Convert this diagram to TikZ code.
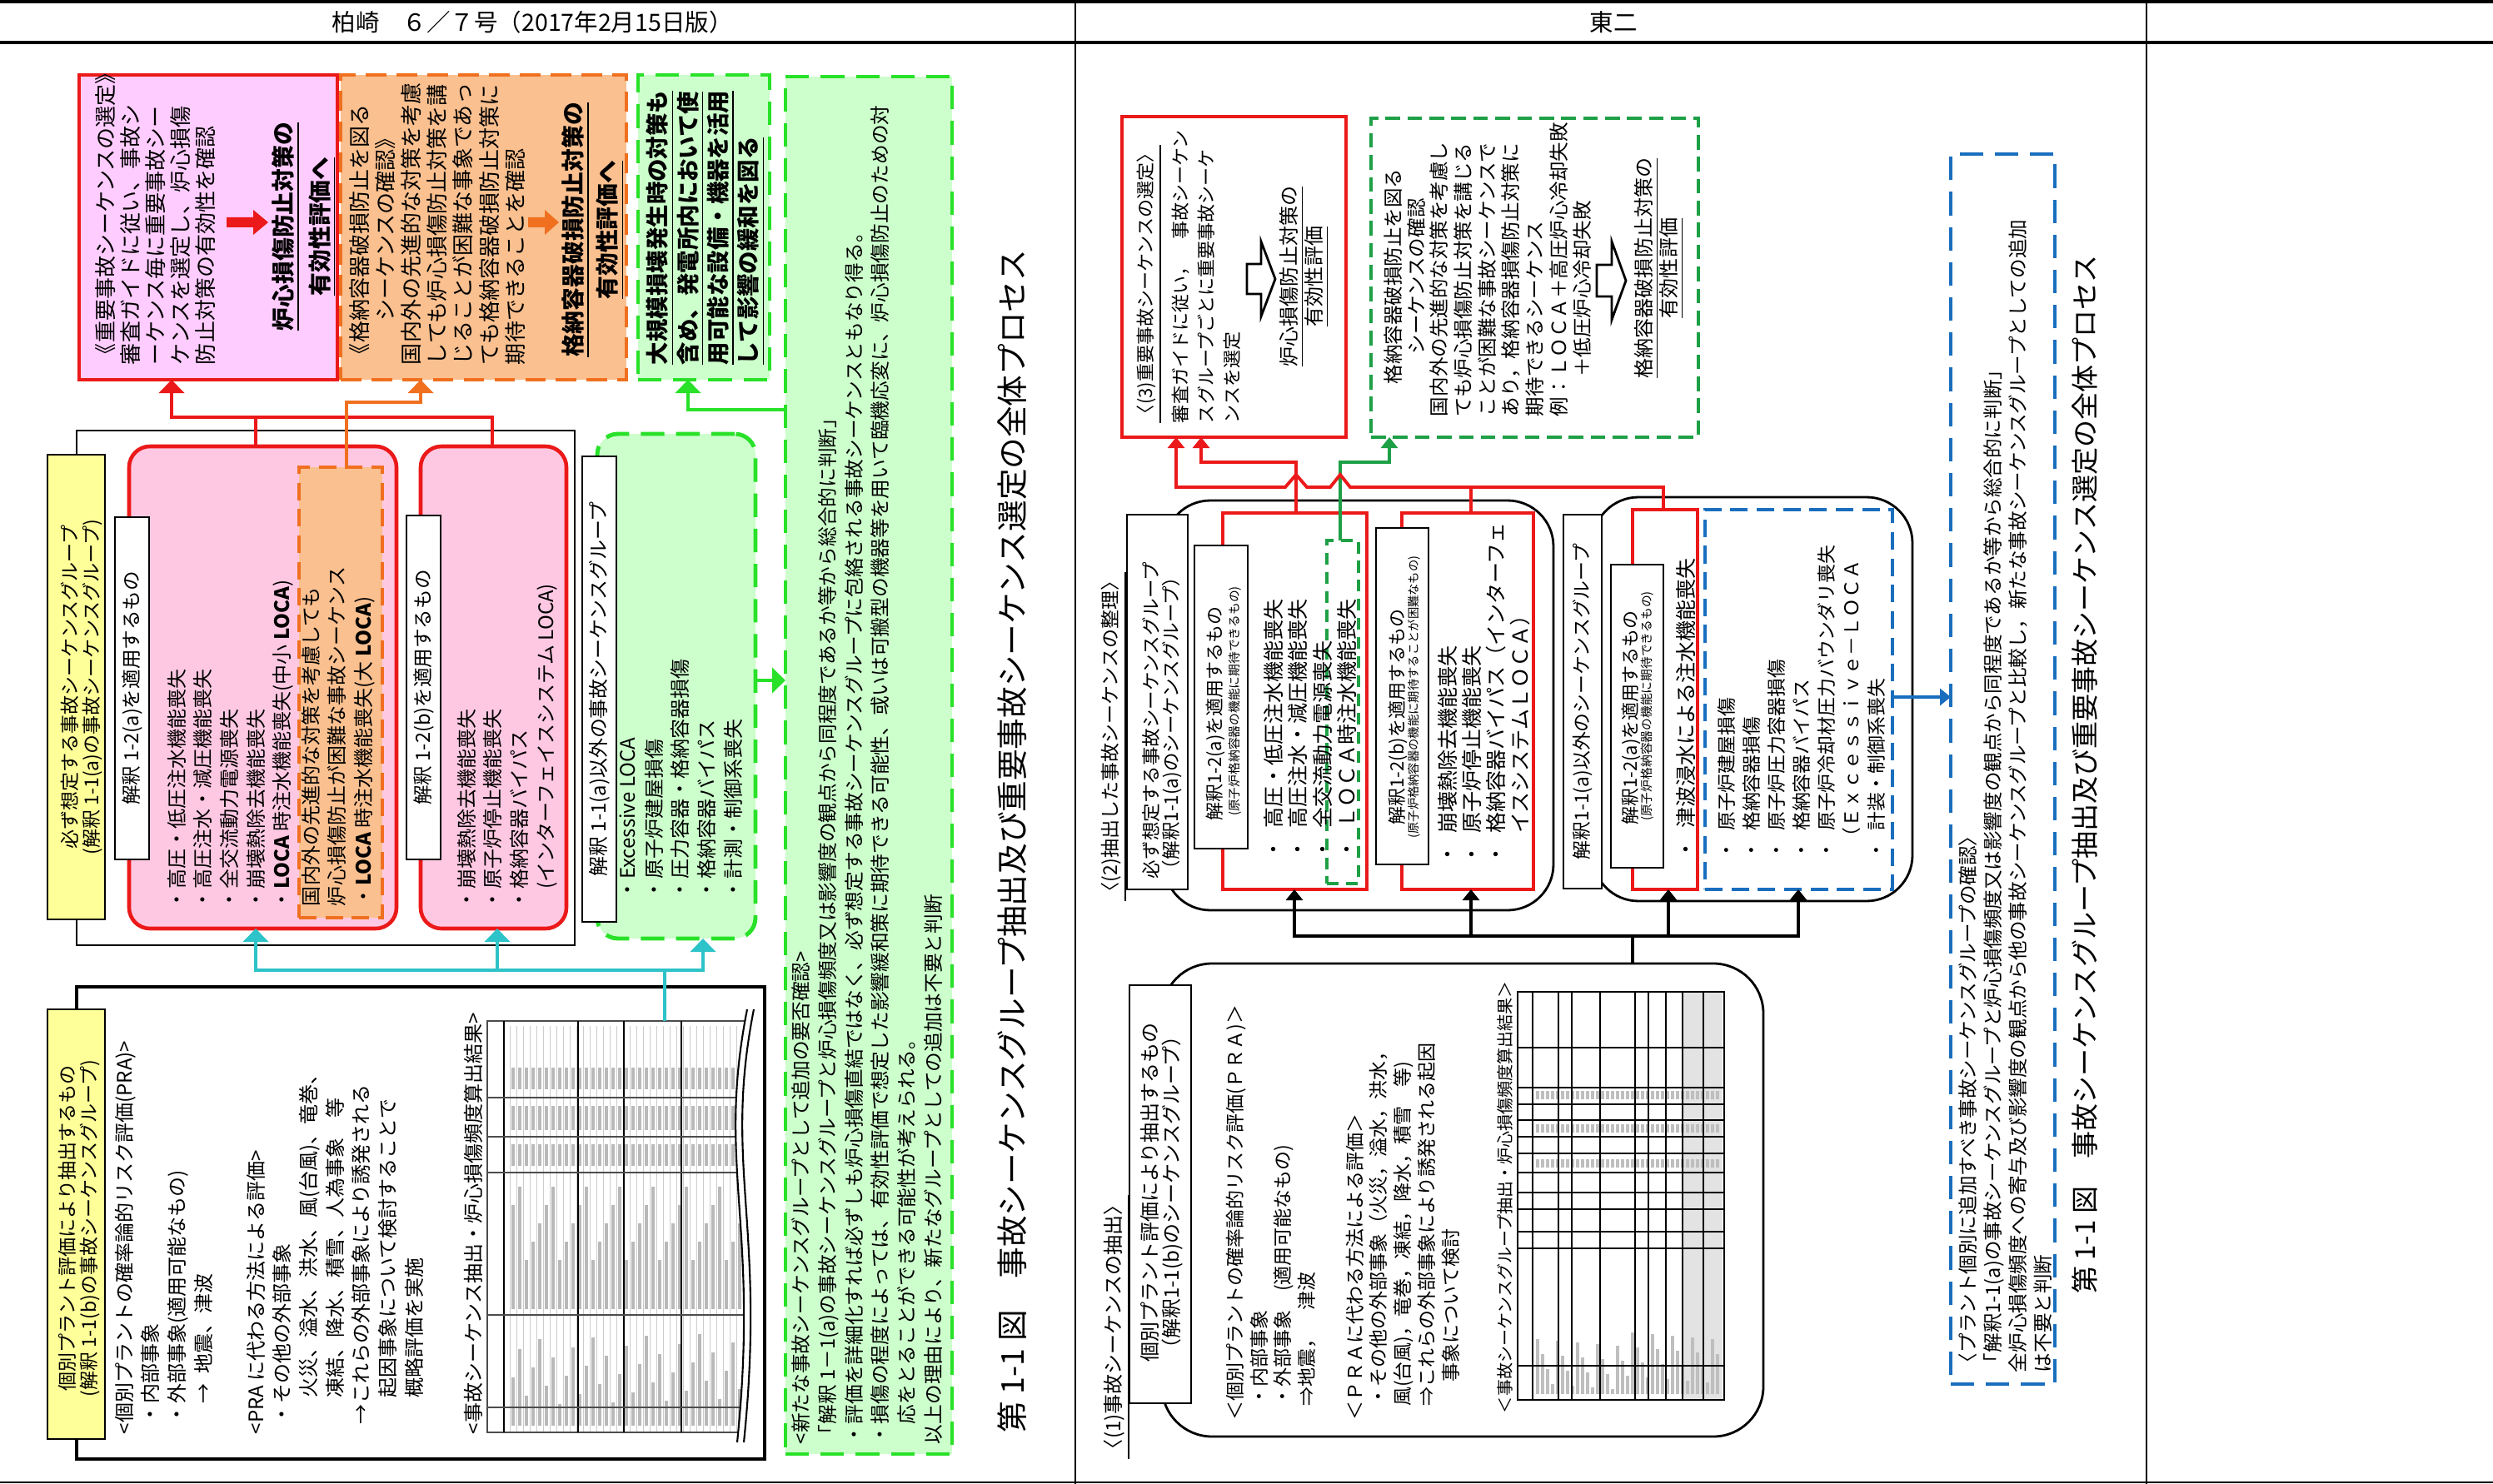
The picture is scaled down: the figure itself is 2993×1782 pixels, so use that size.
\documentclass[tikz,border=0pt]{standalone}
\usepackage{fontspec}
\setmainfont{Noto Sans CJK JP}
\usepackage{graphicx}
\usetikzlibrary{arrows.meta}
\definecolor{cRed}{RGB}{235,25,25}
\definecolor{cPinkTop}{RGB}{255,204,255}
\definecolor{cPink}{RGB}{255,200,226}
\definecolor{cOrange}{RGB}{240,112,32}
\definecolor{cOrangeFill}{RGB}{250,192,143}
\definecolor{cGreen}{RGB}{40,225,40}
\definecolor{cGreenFill}{RGB}{204,255,204}
\definecolor{cYellow}{RGB}{255,255,153}
\definecolor{cCyan}{RGB}{45,195,200}
\definecolor{cDGreen}{RGB}{30,160,70}
\definecolor{cBlue}{RGB}{25,110,190}
\newcommand{\fz}[2]{\fontsize{#1pt}{#2pt}\selectfont}
\newcommand{\mkbox}[6]{\path ({(#3+#5)/2},{(#4+#6)/2}) node[#2, minimum width={(#5-#3)*0.01cm}, minimum height={(#6-#4)*0.01cm}] (#1) {};}
\begin{document}
\begin{tikzpicture}[x=0.01cm,y=-0.01cm,
  vt/.style={rotate=90,anchor=north west,align=left,inner sep=0pt,outer sep=0pt},
  vc/.style={rotate=90,anchor=center,align=center,inner sep=0pt,outer sep=0pt},
  bx/.style={inner sep=0pt,outer sep=0pt},
  lbl/.style={bx,draw=black,line width=0.6pt,fill=white},
  redbox/.style={bx,draw=cRed,line width=1.2pt,fill=white},
  pinkbox/.style={bx,draw=cRed,line width=1.3pt,fill=cPink,rounded corners=0.25cm},
  frame/.style={bx,draw=black,line width=0.8pt,rounded corners=0.55cm},
  arrL/.style={-{Triangle[length=0.16cm,width=0.3cm]}},
  arrR/.style={-{Triangle[length=0.13cm,width=0.2cm]}},
  cL/.style={line width=1.4pt},
  cR/.style={line width=1.1pt},
  blockarrow/.style={fill=white,draw=black,line width=0.8pt,line join=miter},
  ink/.style={gray!55,line width=0.045cm},
]
\useasboundingbox (0,0) rectangle (2993,1782);
\fill[white] (0,0) rectangle (2993,1782);

% ---------- header ----------
\draw[line width=1.2pt] (0,1.5) -- (2993,1.5);
\draw[line width=1.2pt] (0,51) -- (2993,51);
\draw[line width=0.8pt] (0,1780) -- (2993,1780);
\draw[line width=0.5pt] (1291,0) -- (1291,1782);
\draw[line width=0.5pt] (2577,0) -- (2577,1782);
\node[font=\fz{8.1}{9},inner sep=0pt] (hK) at (639,27) {柏崎　６／７号（2017年2月15日版）};
\node[font=\fz{8.1}{9},inner sep=0pt] (hT) at (1937,27) {東二};

% =============== LEFT PANEL ===============
\mkbox{kP1}{bx,draw=cRed,line width=1.2pt,fill=cPinkTop}{95}{90}{405}{456}
\mkbox{kP2}{bx,draw=cOrange,line width=1pt,dash pattern=on 7pt off 3.5pt,fill=cOrangeFill}{409}{90}{752}{456}
\mkbox{kP3}{bx,draw=cGreen,line width=1.4pt,dash pattern=on 8pt off 4pt,fill=cGreenFill}{766}{90}{924}{456}
\mkbox{kBig}{bx,draw=cGreen,line width=1.4pt,dash pattern=on 8pt off 4pt,fill=cGreenFill}{943}{92}{1143}{1746}

\node[vt,font=\fz{7.4}{8.54}] (kP1t) at (114,438) {《重要事故シーケンスの選定》\\審査ガイドに従い、事故シ\\ーケンス毎に重要事故シー\\ケンスを選定し、炉心損傷\\防止対策の有効性を確認};
\fill[cRed] (272,261) -- (304,261) -- (304,252) -- (322,267) -- (304,282) -- (304,273) -- (272,273) -- cycle;
\node[vc,font=\bfseries\fz{7.9}{12.5}] (kP1c) at (365,272) {\underline{炉心損傷防止対策の}\\\underline{有効性評価へ}};

\node[vt,font=\fz{7.4}{8.88}] (kP2t) at (419,438) {《格納容器破損防止を図る\\\hspace{2em}シーケンスの確認》\\国内外の先進的な対策を考慮\\しても炉心損傷防止対策を講\\じることが困難な事象であっ\\ても格納容器破損防止対策に\\期待できることを確認};
\fill[cOrange] (634,261) -- (654,261) -- (654,252) -- (671,267) -- (654,282) -- (654,273) -- (634,273) -- cycle;
\node[vc,font=\bfseries\fz{7.9}{11.7}] (kP2c) at (712,276) {\underline{格納容器破損防止対策の}\\\underline{有効性評価へ}};

\node[vt,font=\bfseries\fz{7.8}{10.33}] (kP3t) at (776,438) {\underline{大規模損壊発生時の対策も}\\\underline{含め、発電所内において使}\\\underline{用可能な設備・機器を活用}\\\underline{して影響の緩和を図る}};

\node[vt,font=\fz{6.74}{8.99}] (kBigt) at (951,1734) {<新たな事故シーケンスグループとして追加の要否確認>\\「解釈 1－1(a)の事故シーケンスグループと炉心損傷頻度又は影響度の観点から同程度であるか等から総合的に判断」\\・評価を詳細化すれば必ずしも炉心損傷直結ではなく、必ず想定する事故シーケンスグループに包絡される事故シーケンスともなり得る。\\・損傷の程度によっては、有効性評価で想定した影響緩和策に期待できる可能性、或いは可搬型の機器等を用いて臨機応変に、炉心損傷防止のための対\\\hspace{1em}応をとることができる可能性が考えられる。\\以上の理由により、新たなグループとしての追加は不要と判断};

% must-assume group
\mkbox{kF}{bx,draw=black,line width=0.8pt}{92}{517}{690}{1135}
\mkbox{kY1}{bx,draw=black,line width=0.6pt,fill=cYellow}{57}{546}{126}{1104}
\node[vc,font=\fz{6.55}{7.4}] (kY1t) at (98,825) {必ず想定する事故シーケンスグループ\\(解釈 1-1(a)の事故シーケンスグループ)};

\mkbox{kA}{pinkbox}{155}{536}{476}{1115}
\mkbox{kAo}{bx,draw=cOrange,line width=1pt,dash pattern=on 6pt off 3pt,fill=cOrangeFill}{359}{561}{459}{1102}
\mkbox{kLA}{lbl}{138}{621}{179}{1032}
\node[vc,font=\fz{6.7}{8}] (kLAt) at (kLA) {解釈 1-2(a)を適用するもの};
\node[vt,font=\fz{6.83}{8.99}] (kAt) at (201,1092) {・高圧・低圧注水機能喪失\\・高圧注水・減圧機能喪失\\・全交流動力電源喪失\\・崩壊熱除去機能喪失\\・\textbf{LOCA} 時注水機能喪失(中小 \textbf{LOCA})};
\node[vt,font=\fz{6.83}{8.99}] (kAot) at (362,1088) {国内外の先進的な対策を考慮しても\\炉心損傷防止が困難な事故シーケンス\\・\textbf{LOCA} 時注水機能喪失(大 \textbf{LOCA})};

\mkbox{kB}{pinkbox}{505}{536}{680}{1115}
\mkbox{kLB}{lbl}{488}{619}{529}{1032}
\node[vc,font=\fz{6.7}{8}] (kLBt) at (kLB) {解釈 1-2(b)を適用するもの};
\node[vt,font=\fz{6.83}{8.99}] (kBt) at (549,1092) {・崩壊熱除去機能喪失\\・原子炉停止機能喪失\\・格納容器バイパス\\\hspace{1em}(インターフェイスシステム LOCA)};

\mkbox{kG}{bx,draw=cGreen,line width=1.4pt,dash pattern=on 8pt off 4pt,fill=cGreenFill,rounded corners=0.25cm}{717}{521}{907}{1127}
\mkbox{kLC}{lbl}{699}{548}{740}{1107}
\node[vc,font=\fz{6.8}{8}] (kLCt) at (kLC) {解釈 1-1(a)以外の事故シーケンスグループ};
\node[vt,font=\fz{6.83}{8.99}] (kGt) at (744,1080) {・Excessive LOCA\\・原子炉建屋損傷\\・圧力容器・格納容器損傷\\・格納容器バイパス\\・計測・制御系喪失};

% PRA box
\mkbox{kPRA}{bx,draw=black,line width=0.9pt,fill=white}{92}{1185}{918}{1752}
\mkbox{kY2}{bx,draw=black,line width=0.6pt,fill=cYellow}{57}{1212}{126}{1728}
\node[vc,font=\fz{6.55}{7.6}] (kY2t) at (95,1475) {個別プラント評価により抽出するもの\\(解釈 1-1(b)の事故シーケンスグループ)};
\node[vt,font=\fz{6.83}{8.99}] (kPRAt) at (138,1722) {<個別プラントの確率論的リスク評価(PRA)>\\\hspace{.5em}・内部事象\\\hspace{.5em}・外部事象(適用可能なもの)\\\hspace{1.5em}→\hspace{.5em}地震、津波\\[8.99pt]<PRA に代わる方法による評価>\\\hspace{.5em}・その他の外部事象\\\hspace{1.8em}火災、溢水、洪水、風(台風)、竜巻、\\\hspace{1.8em}凍結、降水、積雪、人為事象　等\\\hspace{.5em}→これらの外部事象により誘発される\\\hspace{1.8em}起因事象について検討することで\\\hspace{1.8em}概略評価を実施};
\node[vt,font=\fz{6.83}{8.99}] (kTt) at (557,1722) {<事故シーケンス抽出・炉心損傷頻度算出結果>};
\mkbox{kTab}{bx}{585}{1226}{895}{1720}
\begin{scope}
 \foreach \xx in {612,620,...,890} {
   \draw[gray!40,line width=0.25pt] (\xx,1232) -- (\xx,1720);
   \pgfmathsetmacro{\ya}{1600+mod(\xx*7,90)}
   \pgfmathsetmacro{\yb}{1425+mod(\xx*11,110)}
   \draw[ink] (\xx+4,1712) -- (\xx+4,\ya);
   \draw[ink] (\xx+4,1572) -- (\xx+4,\yb);
   \draw[ink] (\xx+4,1400) -- (\xx+4,1374);
   \draw[ink] (\xx+4,1357) -- (\xx+4,1328);
   \draw[ink] (\xx+4,1308) -- (\xx+4,1282);
 }
 \draw[gray!60!black,line width=0.5pt] (895,1226) -- (585,1226) -- (585,1720) -- (895,1720);
 \foreach \xx in {605,694,749,818} \draw[black,line width=0.7pt] (\xx,1226) -- (\xx,1720);
 \foreach \yy in {1318,1365,1408,1579,1690} \draw[gray!60!black,line width=0.4pt] (585,\yy) -- (895,\yy);
 \fill[white] (897,1212) .. controls (860,1400) and (912,1470) .. (885,1732) -- (912,1732) -- (912,1212) -- cycle;
 \draw[line width=0.6pt] (897,1212) .. controls (860,1400) and (912,1470) .. (885,1732);
 \draw[line width=0.6pt] (905,1212) .. controls (868,1400) and (920,1470) .. (893,1732);
\end{scope}

% connectors left
\draw[cL,cRed] (307,0 |- kA.north) -- (307,501);
\draw[cL,cRed,arrL] (591,0 |- kB.north) -- (591,501) -- (206,501) -- (206,0 |- kP1.south);
\draw[cL,cOrange,arrL] (416,0 |- kAo.north) -- (416,483) -- (505,483) -- (505,0 |- kP2.south);
\draw[cL,cGreen,arrL] (kBig.west |- 0,492) -- (826,492) -- (826,0 |- kP3.south);
\draw[cL,cGreen,arrL] (kG.east |- 0,817) -- (kBig.west |- 0,817);
\coordinate (kCy) at (798,1165);
\draw[cL,cCyan] (kTab.north -| kCy) -- (kCy);
\draw[cL,cCyan,line cap=rect] (307,1165) -- (844,1165);
\draw[cL,cCyan,arrL] (307,1165) -- (307,0 |- kA.south);
\draw[cL,cCyan,arrL] (597,1165) -- (597,0 |- kB.south);
\draw[cL,cCyan,arrL] (844,1165) -- (844,0 |- kG.south);

\node[vc,font=\fz{10.7}{12}] (kCap) at (1215,1010) {第 1-1 図　事故シーケンスグループ抽出及び重要事故シーケンス選定の全体プロセス};

% =============== RIGHT PANEL ===============
\mkbox{tR1}{redbox}{1347}{140}{1616}{525}
\node[vt,font=\fz{6.26}{8.82}] (tR1a) at (1365,508) {\underline{〈(3)重要事故シーケンスの選定〉}};
\node[vt,font=\fz{6.26}{8.82}] (tR1b) at (1407,508) {審査ガイドに従い，　事故シーケン\\スグループごとに重要事故シーケ\\ンスを選定};
\draw[blockarrow] (1497,317) -- (1514,317) -- (1514,290) -- (1531,335) -- (1514,380) -- (1514,353) -- (1497,353) -- cycle;
\node[vc,font=\fz{6.83}{8.54}] (tR1c) at (1566,332) {\underline{炉心損傷防止対策の}\\\underline{有効性評価}};

\mkbox{tR2}{bx,draw=cDGreen,line width=1.1pt,dash pattern=on 5pt off 2.5pt,fill=white}{1646}{142}{2039}{525}
\node[vc,font=\fz{6.69}{7.97}] (tR2a) at (1687,332) {格納容器破損防止を図る\\シーケンスの確認};
\node[vt,font=\fz{6.69}{8.14}] (tR2b) at (1717,500) {国内外の先進的な対策を考慮し\\ても炉心損傷防止対策を講じる\\ことが困難な事故シーケンスで\\あり，格納容器損傷防止対策に\\期待できるシーケンス\\例：ＬＯＣＡ＋高圧炉心冷却失敗\\\hspace{2em}＋低圧炉心冷却失敗};
\draw[blockarrow] (1917,318) -- (1935,318) -- (1935,290) -- (1952,337) -- (1935,384) -- (1935,356) -- (1917,356) -- cycle;
\node[vc,font=\fz{6.83}{8.54}] (tR2c) at (1992,322) {\underline{格納容器破損防止対策の}\\\underline{有効性評価}};

\node[vt,font=\fz{6.54}{8}] (tH2) at (1322,1082) {\underline{〈(2)抽出した事故シーケンスの整理〉}};

\mkbox{tF1}{frame}{1398}{601}{1865}{1093}
\mkbox{tF2}{frame}{1912}{597}{2296}{1082}
\mkbox{tG1}{lbl}{1353}{618}{1426}{1068}
\node[vt,font=\fz{6.4}{6.6}] (tG1t) at (1372,1055) {必ず想定する事故シーケンスグループ\\（解釈1-1(a)のシーケンスグループ）};

\mkbox{tR3}{redbox}{1468}{616}{1641}{1068}
\mkbox{tGd}{bx,draw=cDGreen,line width=1.1pt,dash pattern=on 4pt off 2.5pt}{1593}{649}{1631}{1061}
\mkbox{tL1}{lbl}{1434}{655}{1498}{1019}
\node[vc,font=\fz{6.26}{7}] (tL1a) at (1459,857) {解釈1-2(a)を適用するもの};
\node[vc,font=\fz{4.2}{5}] (tL1b) at (1483,842) {(原子炉格納容器の機能に期待できるもの)};
\node[vt,font=\fz{7.11}{8.39}] (tR3t) at (1517,1032) {・\hspace{.5em}高圧・低圧注水機能喪失\\・\hspace{.5em}高圧注水・減圧機能喪失\\・\hspace{.5em}全交流動力電源喪失\\・\hspace{.5em}ＬＯＣＡ時注水機能喪失};

\mkbox{tR4}{redbox}{1683}{616}{1841}{1068}
\mkbox{tL2}{lbl}{1652}{634}{1715}{1038}
\node[vc,font=\fz{6.26}{7}] (tL2a) at (1678,861) {解釈1-2(b)を適用するもの};
\node[vc,font=\fz{4.07}{5}] (tL2b) at (1698,837) {(原子炉格納容器の機能に期待することが困難なもの)};
\node[vt,font=\fz{7.11}{8.25}] (tR4t) at (1726,1038) {・\hspace{.5em}崩壊熱除去機能喪失\\・\hspace{.5em}原子炉停止機能喪失\\・\hspace{.5em}格納容器バイパス（インターフェ\\\hspace{1.5em}イスシステムＬＯＣＡ）};

\mkbox{tG2}{lbl}{1877}{618}{1923}{1067}
\node[vc,font=\fz{6.5}{8}] (tG2t) at (tG2) {解釈1-1(a)以外のシーケンスグループ};
\mkbox{tR5}{redbox}{1960}{612}{2038}{1068}
\mkbox{tL3}{lbl}{1934}{678}{1997}{1042}
\node[vc,font=\fz{6.26}{7}] (tL3a) at (1958,862) {解釈1-2(a)を適用するもの};
\node[vc,font=\fz{4.2}{5}] (tL3b) at (1978,848) {(原子炉格納容器の機能に期待できるもの)};
\node[vt,font=\fz{7.11}{8.39}] (tR5t) at (2012,1032) {・\hspace{.5em}津波浸水による注水機能喪失};
\mkbox{tBl}{bx,draw=cBlue,line width=1.3pt,dash pattern=on 6pt off 3pt}{2047}{612}{2272}{1068}
\node[vt,font=\fz{6.5}{8.54}] (tBlt) at (2062,1032) {・\hspace{.5em}原子炉建屋損傷\\・\hspace{.5em}格納容器損傷\\・\hspace{.5em}原子炉圧力容器損傷\\・\hspace{.5em}格納容器バイパス\\・\hspace{.5em}原子炉冷却材圧力バウンダリ喪失\\\hspace{.7em}（Ｅｘｃｅｓｓｉｖｅ－ＬＯＣＡ\\・\hspace{.5em}計装・制御系喪失};

% top connectors right
\draw[cR,cRed,arrR] (tR3.north -| 1556,0) -- (1556,555) -- (1442,555) -- (1442,0 |- tR1.south);
\draw[cR,cDGreen,arrR] (tGd.north -| 1609,0) -- (1609,555) -- (1668,555) -- (1668,0 |- tR2.south);
\draw[cR,cRed,arrR] (1997,0 |- tR5.north) -- (1997,585) -- (1621,585) -- (1609,570) -- (1597,585) -- (1569,585) -- (1556,570) -- (1543,585) -- (1412,585) -- (1412,0 |- tR1.south);
\draw[cR,cRed] (1766,0 |- tR4.north) -- (1766,585);

% PRA right
\mkbox{tPRA}{bx,draw=black,line width=0.8pt,rounded corners=0.6cm}{1395}{1157}{2117}{1725}
\mkbox{tLP}{lbl}{1356}{1183}{1430}{1685}
\node[vc,font=\fz{6.83}{7.4}] (tLPt) at (1395,1432) {個別プラント評価により抽出するもの\\（解釈1-1(b)のシーケンスグループ）};
\node[vt,font=\fz{6.54}{8.17}] (tPRAt) at (1472,1705) {＜個別プラントの確率論的リスク評価(ＰＲＡ)＞\\\hspace{.7em}・内部事象\\\hspace{.7em}・外部事象　(適用可能なもの)\\\hspace{.7em}⇒地震，　津波\\[8.17pt]＜ＰＲＡに代わる方法による評価＞\\\hspace{.7em}・その他の外部事象（火災，溢水，洪水，\\\hspace{.7em}風(台風)，竜巻，凍結，降水，積雪　等)\\\hspace{.7em}⇒これらの外部事象により誘発される起因\\\hspace{2em}事象について検討};
\node[vt,font=\fz{5.7}{7}] (tTt) at (1798,1697) {＜事故シーケンスグループ抽出・炉心損傷頻度算出結果＞};
\mkbox{tTab}{bx}{1822}{1191}{2070}{1681}
\begin{scope}
 \fill[gray!22] (2020,1191) rectangle (2068,1681);
 \foreach \xx in {1846,1852,...,2064} {
   \pgfmathsetmacro{\ya}{1600+mod(\xx*3,70)}
   \draw[gray!50,line width=0.035cm] (\xx,1674) -- (\xx,\ya);
   \draw[gray!50,line width=0.035cm] (\xx,1402) -- (\xx,1392);
   \draw[gray!50,line width=0.035cm] (\xx,1360) -- (\xx,1350);
   \draw[gray!50,line width=0.035cm] (\xx,1320) -- (\xx,1310);
 }
 \draw[line width=0.4pt] (1822,1191) rectangle (2070,1681);
 \foreach \xx in {1840,1871,1887,1921,1963,1979,2000,2020,2045} \draw[line width=0.3pt] (\xx,1191) -- (\xx,1681);
 \foreach \yy in {1258,1306,1326,1345,1365,1385,1408,1432,1452,1479,1499,1640} \draw[line width=0.3pt] (1822,\yy) -- (2070,\yy);
\end{scope}
\node[vt,font=\fz{6.83}{8}] (tH1) at (1325,1752) {\underline{〈(1)事故シーケンスの抽出〉}};

% black connectors
\coordinate (tJ) at (1960,1124);
\draw[cR,black] (tPRA.north -| tJ) -- (tJ);
\draw[cR,black,line cap=rect] (1554,1124) -- (2159,1124);
\draw[cR,black,arrR] (1554,1124) -- (1554,0 |- tR3.south);
\draw[cR,black,arrR] (1766,1124) -- (1766,0 |- tR4.south);
\draw[cR,black,arrR] (2003,1124) -- (2003,0 |- tR5.south);
\draw[cR,black,arrR] (2159,1124) -- (2159,0 |- tBl.south);

% big blue box
\mkbox{tBig}{bx,draw=cBlue,line width=1.4pt,dash pattern=on 8pt off 4pt}{2342}{185}{2467}{1662}
\draw[cR,cBlue,arrR] (tBl.east |- 0,837) -- (tBig.west |- 0,837);
\node[vt,font=\fz{6.7}{8.5}] (tBigt) at (2352,1648) {〈プラント個別に追加すべき事故シーケンスグループの確認〉\\「解釈1-1(a)の事故シーケンスグループと炉心損傷頻度又は影響度の観点から同程度であるか等から総合的に判断」\\全炉心損傷頻度への寄与及び影響度の観点から他の事故シーケンスグループと比較し，新たな事故シーケンスグループとしての追加\\は不要と判断};
\node[vc,font=\fz{9.4}{11}] (tCap) at (2503,930) {第 1-1 図　事故シーケンスグループ抽出及び重要事故シーケンス選定の全体プロセス};
\end{tikzpicture}
\end{document}
